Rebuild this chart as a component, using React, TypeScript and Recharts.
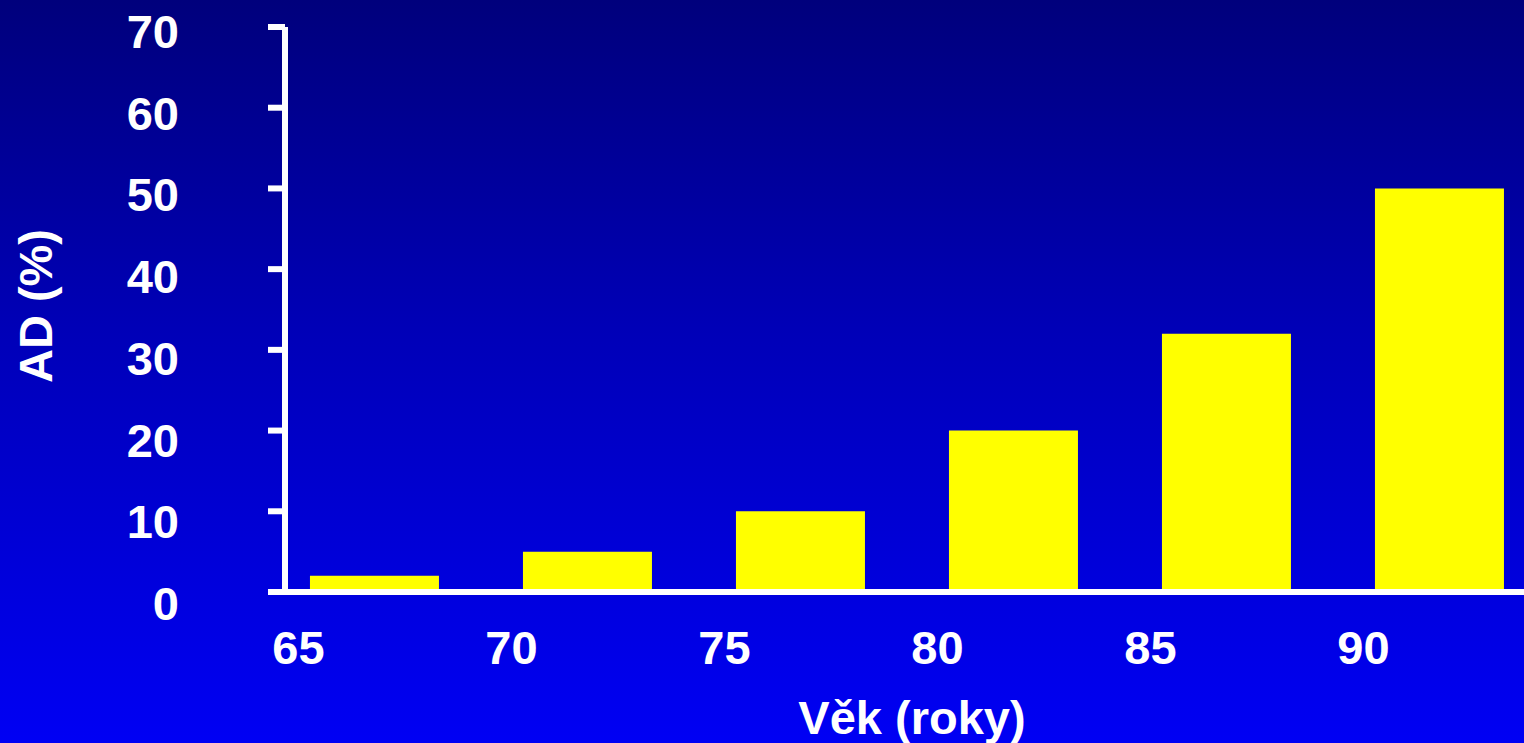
import React from 'react'
import { BarChart, Bar, XAxis, YAxis } from 'recharts'

const ages = [65, 70, 75, 80, 85, 90]
const adPercent = [2, 5, 10, 20, 32, 50]
const yTicks = [0, 10, 20, 30, 40, 50, 60, 70]

const data = ages.map((age, i) => ({ age, ad: adPercent[i] }))

const FONT = '"Liberation Sans", Arial, Helvetica, sans-serif'
const WHITE = '#ffffff'
const LINE = 6

function AgeTick({ x, y, payload }: any) {
  return (
    <text
      x={x - 76}
      y={y + 64}
      textAnchor="middle"
      fill={WHITE}
      fontFamily={FONT}
      fontWeight="bold"
      fontSize={47}
    >
      {payload.value}
    </text>
  )
}

// labels sit a little below their tick, drifting closer toward the top
function PercentTick({ x, y, payload }: any) {
  const drift = 11 - payload.value * 0.1
  return (
    <text
      x={x}
      y={y + drift + 17}
      textAnchor="end"
      fill={WHITE}
      fontFamily={FONT}
      fontWeight="bold"
      fontSize={47}
    >
      {payload.value}
    </text>
  )
}

function YTitle() {
  const cx = 52
  const cy = 306
  return (
    <text
      x={cx}
      y={cy}
      transform={`rotate(-90, ${cx}, ${cy})`}
      textAnchor="middle"
      fill={WHITE}
      fontFamily={FONT}
      fontWeight="bold"
      fontSize={47}
    >
      AD (%)
    </text>
  )
}

export default function App() {
  return (
    <div
      style={{
        position: 'absolute',
        left: 0,
        top: 0,
        width: 1524,
        height: 743,
        overflow: 'hidden',
        background: 'linear-gradient(to bottom, #00007c 0%, #0000b8 45%, #0000f4 100%)',
      }}
    >
      <BarChart
        width={1580}
        height={743}
        data={data}
        margin={{ top: 27, right: 17, bottom: 0, left: 0 }}
      >
        <XAxis
          dataKey="age"
          type="number"
          domain={[62.9, 92.9]}
          ticks={ages}
          height={151}
          stroke={WHITE}
          axisLine={{ stroke: WHITE, strokeWidth: LINE }}
          tickLine={false}
          tick={<AgeTick />}
          interval={0}
          label={{
            value: 'Věk (roky)',
            position: 'insideBottom',
            offset: 9,
            dx: -12,
            fill: WHITE,
            fontFamily: FONT,
            fontWeight: 'bold',
            fontSize: 47,
          }}
        />
        <YAxis
          domain={[0, 70]}
          ticks={yTicks}
          width={285}
          stroke={WHITE}
          axisLine={{ stroke: WHITE, strokeWidth: LINE }}
          tickLine={{ stroke: WHITE, strokeWidth: LINE }}
          tickSize={17}
          tickMargin={89}
          tick={<PercentTick />}
          interval={0}
          label={<YTitle />}
        />
        <Bar dataKey="ad" fill="#ffff00" barSize={129} isAnimationActive={false} />
      </BarChart>
    </div>
  )
}
